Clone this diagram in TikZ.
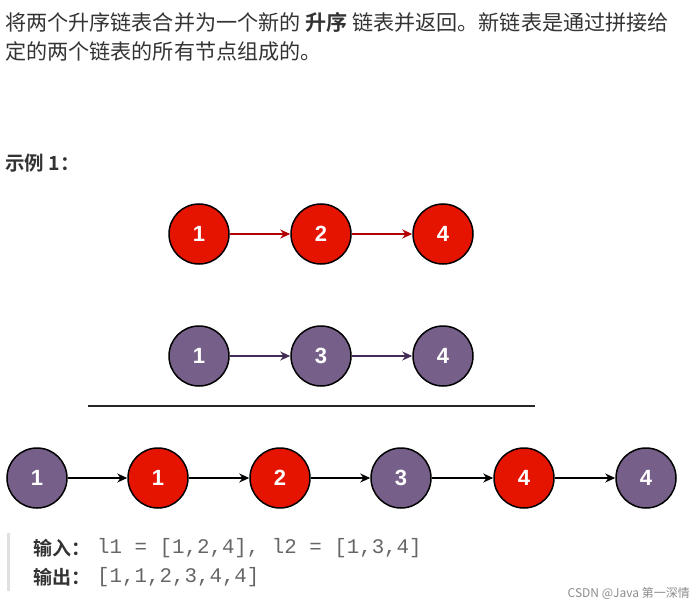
\documentclass[tikz,border=0pt]{standalone}
\usepackage{fontspec}
\setmainfont{Liberation Sans}
\newfontfamily\cjk{Noto Sans CJK SC}
\newfontfamily\cjkb{Noto Sans CJK SC Bold}
\newfontfamily\mono{Liberation Mono}
\usetikzlibrary{arrows.meta}
\definecolor{nred}{HTML}{E51400}
\definecolor{npur}{HTML}{76608A}
\definecolor{ared}{HTML}{B20000}
\definecolor{apur}{HTML}{432D57}
\definecolor{txt}{HTML}{333333}
\definecolor{codegray}{HTML}{666666}
\tikzset{
  lnode/.style={circle, draw=black, line width=1.5pt, minimum size=60pt, inner sep=0pt,
    text=white, font=\fontsize{22}{22}\selectfont\bfseries},
  rn/.style={lnode, fill=nred},
  pn/.style={lnode, fill=npur},
  link/.style={line width=1.2pt, -{Stealth[length=10pt,width=9pt]}},
  para/.style={anchor=west, inner sep=0pt, text=txt, font=\cjk\fontsize{21.1}{24}\selectfont},
}
\begin{document}
\begin{tikzpicture}[x=1pt,y=-1pt]
\useasboundingbox (0,0) rectangle (696,607);
% paragraph
\node[para] (p1) at (5,22) {将两个升序链表合并为一个新的 {\cjkb 升序} 链表并返回。新链表是通过拼接给};
\node[para] (p2) at (5,51) {定的两个链表的所有节点组成的。};
\node[para, font=\cjkb\fontsize{19.5}{20}\selectfont] (ex) at (5,163) {示例 1：};
% list 1
\node[rn] (a1) at (199,234) {1};
\node[rn] (a2) at (321,234) {2};
\node[rn] (a3) at (443,234) {4};
\draw[link, ared] (a1) -- (a2);
\draw[link, ared] (a2) -- (a3);
% list 2
\node[pn] (b1) at (199,356) {1};
\node[pn] (b2) at (321,356) {3};
\node[pn] (b3) at (443,356) {4};
\draw[link, apur] (b1) -- (b2);
\draw[link, apur] (b2) -- (b3);
% separator
\coordinate (s1) at (88,406);
\coordinate (s2) at (535,406);
\draw[line width=2pt, black!85] (s1) -- (s2);
% merged
\node[pn] (c1) at (37,478) {1};
\node[rn] (c2) at (158,478) {1};
\node[rn] (c3) at (280,478) {2};
\node[pn] (c4) at (401,478) {3};
\node[rn] (c5) at (524,478) {4};
\node[pn] (c6) at (646,478) {4};
\foreach \u/\v in {c1/c2,c2/c3,c3/c4,c4/c5,c5/c6}
  \draw[link, black] (\u) -- (\v);
% quote block
\coordinate (q1) at (8,533);
\coordinate (q2) at (8,591);
\draw[line width=3pt, black!12] (q1) -- (q2);
\node[anchor=west, inner sep=0pt, text=txt, font=\cjkb\fontsize{19}{20}\selectfont] (in) at (33,548) {输入：};
\node[anchor=west, inner sep=0pt, text=codegray, font=\mono\fontsize{20.8}{20}\selectfont] (inv) at (97,548) {l1 = [1,2,4], l2 = [1,3,4]};
\node[anchor=west, inner sep=0pt, text=txt, font=\cjkb\fontsize{19}{20}\selectfont] (out) at (33,577) {输出：};
\node[anchor=west, inner sep=0pt, text=codegray, font=\mono\fontsize{20.8}{20}\selectfont] (outv) at (97,577) {[1,1,2,3,4,4]};
% watermark
\node[anchor=east, inner sep=0pt, text=black!45, font=\cjk\fontsize{12}{12}\selectfont] (wm) at (690,593) {CSDN @Java 第一深情};
\end{tikzpicture}
\end{document}
